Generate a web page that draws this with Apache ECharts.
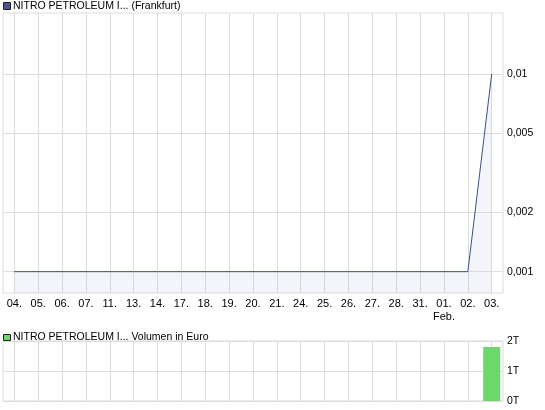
<!DOCTYPE html>
<html><head><meta charset="utf-8">
<script src="https://cdn.jsdelivr.net/npm/echarts@6/dist/echarts.min.js"></script>
<style>html,body{margin:0;padding:0;background:#fff}#c{width:545px;height:410px}</style>
</head><body><div id="c"></div>
<script>
// ---- data ----
const dates = ['04.','05.','06.','07.','11.','13.','14.','17.','18.','19.','20.','21.','24.','25.','26.','27.','28.','31.','01.','02.','03.'];
const monthMarks = {18: 'Feb.'};
const prices = [0.001,0.001,0.001,0.001,0.001,0.001,0.001,0.001,0.001,0.001,0.001,0.001,0.001,0.001,0.001,0.001,0.001,0.001,0.001,0.001,0.01];
const volumes = [0,0,0,0,0,0,0,0,0,0,0,0,0,0,0,0,0,0,0,0,1800];
const priceTicks = [0.001, 0.002, 0.005, 0.01];
const priceTickLabels = ['0,001', '0,002', '0,005', '0,01'];
const volumeTickLabels = ['0T', '1T', '2T'];
const priceTitle = 'NITRO PETROLEUM I... (Frankfurt)';
const volumeTitle = 'NITRO PETROLEUM I... Volumen in Euro';

// ---- styles ----
const FONT = '"Liberation Sans", Arial, sans-serif';
const GRID_COL = '#dcdcdc';
const priceMin = 0.00078, priceMax = 0.02035;

const chart = echarts.init(document.getElementById('c'), null, {renderer: 'canvas'});
chart.setOption({
  animation: false,
  textStyle: {fontFamily: FONT},
  grid: [
    {left: 3, top: 13, width: 500, height: 280, show: true, borderColor: GRID_COL, borderWidth: 1, backgroundColor: 'transparent'},
    {left: 14.3, top: 13, width: 477.4, height: 280},
    {left: 3, top: 341, width: 500, height: 60, show: true, borderColor: GRID_COL, borderWidth: 1, backgroundColor: 'transparent'},
    {left: 14.3, top: 341, width: 477.4, height: 60}
  ],
  xAxis: [
    {gridIndex: 0, type: 'value', min: 0, max: 1, show: false},
    {gridIndex: 1, type: 'category', data: dates, boundaryGap: false,
      axisLine: {show: false}, axisTick: {show: false},
      axisLabel: {interval: 0, margin: 5, fontSize: 11, color: '#000', lineHeight: 12.5, fontFamily: FONT,
        formatter: (v, i) => monthMarks[i] ? v + '\n' + monthMarks[i] : v},
      splitLine: {show: true, interval: 0, lineStyle: {color: GRID_COL, width: 1}}},
    {gridIndex: 2, type: 'value', min: 0, max: 1, show: false},
    {gridIndex: 3, type: 'category', data: dates, boundaryGap: false,
      axisLine: {show: false}, axisTick: {show: false}, axisLabel: {show: false},
      splitLine: {show: true, interval: 0, lineStyle: {color: GRID_COL, width: 1}}}
  ],
  yAxis: [
    {gridIndex: 0, type: 'log', logBase: 10, min: priceMin, max: priceMax, position: 'right',
      axisLine: {show: false},
      axisTick: {show: false, customValues: priceTicks},
      axisLabel: {customValues: priceTicks, margin: 4, fontSize: 10.5, color: '#000', fontFamily: FONT,
        formatter: v => { const i = priceTicks.findIndex(t => Math.abs(t - v) < 1e-9); return i >= 0 ? priceTickLabels[i] : ''; }},
      splitLine: {show: true, lineStyle: {color: GRID_COL, width: 1}}},
    {gridIndex: 1, type: 'log', logBase: 10, min: priceMin, max: priceMax, show: false},
    {gridIndex: 2, type: 'value', min: 0, max: 2000, interval: 1000, position: 'right',
      axisLine: {show: false}, axisTick: {show: false},
      axisLabel: {margin: 4, fontSize: 10.5, color: '#000', fontFamily: FONT,
        formatter: v => volumeTickLabels[Math.round(v / 1000)]},
      splitLine: {show: true, lineStyle: {color: GRID_COL, width: 1}}},
    {gridIndex: 3, type: 'value', min: 0, max: 2000, interval: 1000, show: false}
  ],
  series: [
    {type: 'line', xAxisIndex: 1, yAxisIndex: 1, data: prices, symbol: 'none',
      lineStyle: {color: '#3c5080', width: 1},
      areaStyle: {color: 'rgba(185,200,235,0.25)', origin: 'start'}},
    {type: 'bar', xAxisIndex: 3, yAxisIndex: 3, data: volumes, barWidth: 17, clip: false,
      itemStyle: {color: '#6cd86c'}}
  ],
  graphic: [
    {type: 'rect', shape: {x: 3.5, y: 2.5, width: 7, height: 7}, style: {fill: '#44598a', stroke: '#222', lineWidth: 1}},
    {type: 'text', x: 13, y: 6.5, style: {text: priceTitle, font: '10.5px ' + FONT, fill: '#000', textVerticalAlign: 'middle', verticalAlign: 'middle'}},
    {type: 'rect', shape: {x: 3.5, y: 334.5, width: 7, height: 6}, style: {fill: '#6cd86c', stroke: '#222', lineWidth: 1}},
    {type: 'text', x: 13, y: 337.5, style: {text: volumeTitle, font: '10.5px ' + FONT, fill: '#000', textVerticalAlign: 'middle', verticalAlign: 'middle'}}
  ]
});
</script></body></html>
